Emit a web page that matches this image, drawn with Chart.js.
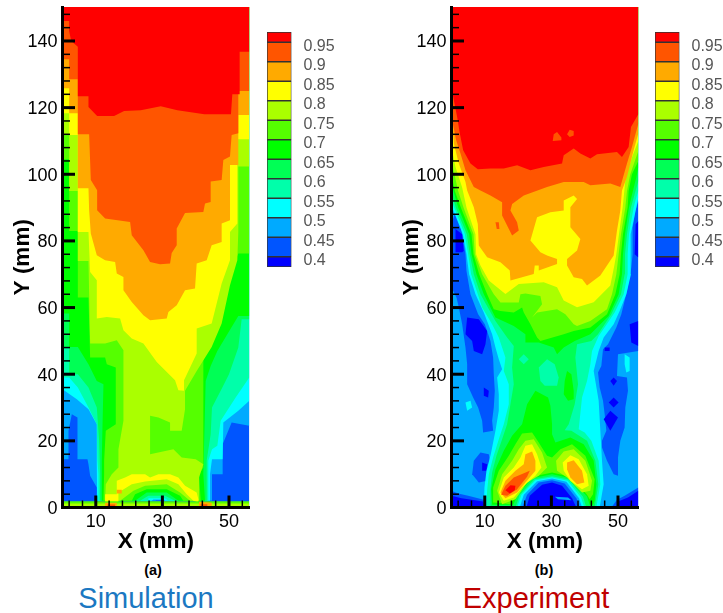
<!DOCTYPE html>
<html>
<head>
<meta charset="utf-8">
<title>Simulation and Experiment contours</title>
<script src="https://cdn.jsdelivr.net/npm/chart.js@4/dist/chart.umd.min.js"></script>
<style>
  body { margin: 0; background: #fff; font-family: "Liberation Sans", Arial, sans-serif; }
  #page { position: relative; width: 723px; height: 613px; overflow: hidden; }
  canvas { position: absolute; top: 0; }
  .sub { position: absolute; top: 561px; width: 60px; text-align: center; font-size: 14.5px; font-weight: bold; line-height: 18px; }
  .name { position: absolute; top: 581px; width: 200px; text-align: center; font-size: 29px; line-height: 34px; }
</style>
</head>
<body>
<div id="page">
  <canvas id="simChart" width="260" height="560" style="left:0"></canvas>
  <canvas id="simBar" width="90" height="300" style="left:260px"></canvas>
  <canvas id="expChart" width="260" height="560" style="left:390px"></canvas>
  <canvas id="expBar" width="75" height="300" style="left:648px"></canvas>
  <div class="sub" style="left:123px">(a)</div>
  <div class="sub" style="left:514px">(b)</div>
  <div class="name" style="left:46px;color:#1b78c2">Simulation</div>
  <div class="name" style="left:436px;color:#c00000">Experiment</div>
</div>
<script>
const xMax = 56.1;
const yMax = 150.2;
const xMinorTicks = [2, 6, 10, 14, 18, 22, 26, 30, 34, 38, 42, 46, 50, 54];
const xLabels = [10, 30, 50];
const yMinorTicks = [0, 4, 8, 12, 16, 20, 24, 28, 32, 36, 40, 44, 48, 52, 56, 60, 64, 68, 72, 76, 80, 84, 88, 92, 96, 100, 104, 108, 112, 116, 120, 124, 128, 132, 136, 140, 144, 148];
const yLabels = [0, 20, 40, 60, 80, 100, 120, 140];

// colour legend, low to high
const legendLabels = ["0.4", "0.45", "0.5", "0.55", "0.6", "0.65", "0.7", "0.75", "0.8", "0.85", "0.9", "0.95"];
const legendValues = [0.4, 0.45, 0.5, 0.55, 0.6, 0.65, 0.7, 0.75, 0.8, 0.85, 0.9, 0.95];
const legendColors = ["#0000ff", "#0055ff", "#00aaff", "#00ffff", "#00ffaa", "#00ff55", "#00ff00", "#55ff00", "#aaff00", "#ffff00", "#ffaa00", "#ff5500", "#ff0000"];
const legendMin = 0.3736;
const legendMax = 0.9764;
const [c40, c45, c50, c55, c60, c65, c70, c75, c80, c85, c90, c95] = legendColors.slice(1);
const c00 = legendColors[0];

const simLevel45 = [[0,14.5],[1.8,14.5],[1.8,23],[2.8,28],[4.5,27],[4.5,14.5],[7.5,14.5],[7.8,13],[8.3,9.5],[10.3,6],[10.3,2],[27.8,2],[28,2.2],[30,2.2],[30.2,2],[44.9,2],[44.9,10],[48.1,10],[48.1,19],[50.8,25.5],[56.1,24.5]];
const simLevel50 = [[0,35.5],[4.3,32.5],[7.8,29.5],[10.3,25],[10.3,13],[10.4,2],[26.8,2],[27.3,2.4],[30.3,2.4],[30.8,2],[44.3,2],[44.3,10],[44.9,14.5],[48.1,14.5],[48.3,25.5],[52.8,29],[56.1,32]];
const simLevel55 = [[0,39],[2,39],[4.6,36],[7.8,30],[10.3,25],[10.5,14],[10.8,10],[10.8,2],[25.8,2],[25.8,2.8],[30.8,2.8],[31.8,2],[43.8,2],[43.8,14],[44.9,17.5],[46.5,18.5],[47.5,26],[52,33],[56.1,39]];
const simLevel60 = [[0,48.2],[2,48.2],[2,40],[4.6,40],[7.8,36],[10.3,30],[11,20],[11.3,10],[11.3,2],[23.3,2],[25.8,3.5],[30.8,3.5],[33.8,2],[43.3,2],[43.3,14],[44.5,22],[44.9,30],[48,36],[50,40],[52.8,48],[53.8,56.5],[56.1,56.5]];
const simLevel65 = [[0,58.2],[2,58.2],[2,48.2],[4.6,48.2],[7.8,43],[10.3,38],[12.3,37],[12,24],[11.8,14],[11.8,2],[21.8,2],[25.3,4.5],[31.3,4.5],[34.8,2],[42.8,2],[42.3,10],[43,38],[44.5,42.5],[46.5,47],[49.5,52],[52.8,57.5],[56.1,57.5]];
const simLevel70 = [[0,104.5],[2,104.5],[2,83],[4.6,83],[4.6,63],[7.8,63],[8.3,45],[12.8,45],[13.3,43],[16,42],[16,25],[13,23],[12.5,14],[12.5,10],[12.3,2],[20.8,2],[21.8,4],[25.3,5.5],[31.3,5.5],[35.3,3.5],[36.3,2],[41.5,2],[41,10],[42.3,12],[42.3,48.2],[45.3,50.7],[48.1,62.2],[50.5,71.2],[52.8,76.2],[56.1,76.2]];
const simLevel75 = [[0,111.8],[2,111.8],[2,95],[4.6,95],[4.6,74],[7.8,74],[8.3,49.2],[12.8,49.2],[16.3,50.2],[18.3,47.2],[18.3,26],[16.8,17.5],[16.8,12],[14.8,10],[13,7],[12.8,2],[17.3,2],[21.3,5],[24.8,6.5],[31.3,7],[35.3,4.5],[38.3,2],[41,2],[41,4.5],[41,9],[42.3,13],[40,14.5],[35.8,15],[33.3,17.5],[26.3,16],[26.3,27.5],[28.8,27],[32.3,25.5],[32.3,23],[35.8,23],[36.8,29.5],[36.8,35],[40.3,41],[44.8,48.2],[47.8,55.2],[50.3,66.7],[52.5,74.2],[52.8,82.7],[52.8,102.3],[56.1,102.3]];
const simLevel80 = [[0,118.3],[2,118.3],[2,111.8],[4.6,111.8],[4.6,82.7],[7.8,82.7],[8.3,70.7],[10.3,68.2],[10.3,56.7],[13.3,57.2],[17.3,56.7],[18.3,53.2],[20.8,50.7],[24.3,49.2],[28.3,43.7],[33.8,38.2],[34.8,35.2],[36.5,35],[36.5,38.2],[40.3,46.2],[40.3,53.7],[44.8,55.2],[47.8,67.2],[50.3,74.2],[50.3,82.7],[52.5,85.2],[52.5,110.5],[56.1,110.5]];
const simLevel85 = [[0,125.8],[2,125.8],[2,118.3],[4.6,118.3],[4.6,95.8],[7.8,95.8],[8,89.2],[8.5,82.2],[10.3,75.7],[12.8,74.2],[15.8,73.7],[16.3,70.2],[18.3,69.2],[18.3,65.2],[20.8,61.7],[24.3,57.7],[26.3,56.2],[31.3,56.7],[31.8,58.7],[34.3,60.7],[36.8,65.2],[39.8,65.7],[40.3,73.2],[43.3,74.2],[44.8,78.7],[47.8,79.7],[47.8,85.2],[50.3,86.2],[50.3,102.8],[52.8,102.8],[52.8,117.8],[56.1,117.8]];
const simLevel90 = [[0,134.5],[2,134.5],[2,128.5],[4.6,128.5],[4.6,112],[8,112],[8.5,98.3],[10.4,95.2],[10.4,89.2],[12.8,86.7],[20.3,85.7],[20.8,81.7],[24.3,77.2],[26.3,73.7],[29.3,73],[32.3,73.2],[32.8,76.4],[34.3,78.7],[34.3,83.7],[36.8,88.4],[42.3,88.7],[42.8,91.2],[44.5,91.7],[44.5,97.8],[47.8,98.3],[48.3,104.3],[50.3,105.3],[50.8,111.8],[52.8,112.3],[52.8,125],[56.1,125]];
const simLevel95 = [[0,146],[2,146],[2,143],[2.6,140],[4.6,138.3],[4.6,123.4],[7.8,123.4],[7.8,120.2],[10.4,117.5],[15.5,117.5],[18.5,119],[23.5,119.2],[29.5,120.4],[34.5,119.2],[42.6,118],[50.6,118],[51,124],[53.2,124],[53.2,136.8],[56.1,136.8]];
const simRing = [[12.8,1.5],[12.8,4],[16.3,4],[16.3,8],[18.8,9],[20.8,10],[24.8,10],[26.3,9],[28.8,10],[32.3,10],[34.8,9],[36.8,6.5],[40.3,4.5],[40.8,2.5],[40.8,1.5],[39.3,2],[37.3,4],[34.8,7],[31.3,8.5],[24.8,7.8],[20.8,7],[16.8,4.5],[16.8,1.5]];
const simSpot = [[16.3,5.3],[17.8,5.3],[17.8,4.2],[16.3,4.2]];
const simStripGreen = [[0,0],[56.1,0],[56.1,1.9],[0,1.9]];
const simStripLime = [[0,0],[56.1,0],[56.1,1.2],[0,1.2]];
const simFootLeft = [[12.8,0],[12.8,1.4],[16.3,1.4],[16.3,0]];
const simFootRight = [[41,0],[41,1.7],[44.8,1.4],[44.8,0]];
const simFootRedLeft = [[13.5,0],[13.5,0.9],[15.8,0.9],[15.8,0]];
const simFootRedRight = [[41.5,0],[41.5,1],[43.5,1],[43.5,0]];

// Experiment: sky blue is the background, darker blue patches sit on it, then the levels
const expStripLeft = [[0,85],[1.2,89],[2.2,87.6],[3.2,82],[4.2,76],[4.5,71],[5.7,64],[8,58],[10,55],[11.7,50],[12.5,45],[12.7,40],[13,35],[12.7,30],[12.2,26],[12.5,23],[9.5,22.5],[9.2,26],[8,30],[6.5,33],[4.7,37],[4.7,43],[4.2,48],[3.2,55],[2.2,60],[1.5,63],[0,66]];
const expBlobLeft = [[6.7,14],[8.7,16.5],[11.2,16],[11.9,12],[10.7,8],[8.2,7.5],[6.2,10]];
const expCornerLeft = [[0,5],[2,4.2],[5,3.5],[9.7,2.3],[10.2,0],[0,0]];
const expStripRight = [[56.1,92],[55.2,89],[54.4,84],[54.4,76],[54,72],[52.7,65],[51,58],[49.5,54],[47,49],[45.5,47.5],[45,42.5],[44,40.5],[44.5,36],[45.5,32],[46,28],[46.5,23],[45.2,20],[45.2,18],[46.7,14],[48.7,10],[50,9.5],[50,15],[50.7,20],[52,24],[52.2,30],[53,35],[52.7,39],[49.7,39.5],[50,46],[56.1,47]];
const expCornerRight = [[49.7,2.3],[52,3.5],[56.1,6],[56.1,0],[48,0]];
const expDome45 = [[21.2,0],[22.7,3.8],[26.2,7.5],[30.2,8.2],[34,7.2],[37.5,2.8],[38.5,0]];
const expDeep1 = [[4.7,57],[8.2,56.5],[10.7,53],[10.2,49],[9.2,46],[6.7,47],[6.2,50],[4.2,52]];
const expDeep2 = [[1.2,83.6],[3.2,82],[3.7,77],[3.2,76.6],[1.2,76.6]];
const expDeep3 = [[9.7,36],[11.2,35],[11,33],[9.7,33.5]];
const expDeep4 = [[9.2,13.5],[10.7,13],[10.5,11],[9.2,11]];
const expDeep5 = [[53.5,55],[56.1,56],[56.1,48.5],[54,49.5]];
const expDeep6 = [[55.3,85],[56.1,86],[56.1,75],[55,76]];
const expDeep7 = [[45.7,26.5],[47.7,29],[50,27],[47.7,23]];
const expDeep8 = [[47.2,31.5],[48.7,33],[50.2,31.5],[48.7,30]];
const expDeep9 = [[47.7,38],[48.7,39],[49.7,38],[48.7,36.5]];
const expDeep10 = [[46,48],[47.5,48],[47.5,47],[46,47]];
const expDeepCornerLeft = [[0,3.5],[3,2.8],[7,2.2],[9.5,1.8],[10,0],[0,0]];
const expDeepCornerRight = [[50,1.8],[53,3],[56.1,5],[56.1,0],[49.5,0]];
const expDome40 = [[22.5,0],[23.5,3.5],[27.2,6.8],[30.2,7.5],[33.2,6.5],[36.2,2.8],[37.5,0]];
const expStreak = [[31,3.2],[35,3],[36,2.2],[32,2.5]];
const expPatchCyan1 = [[4.2,31.5],[5.7,32],[6.2,30],[4.7,29]];
const expPatchCyan2 = [[52,46],[53.5,45],[53.5,41],[52.5,40.5],[52,43]];
const expLevel50 = [[0,90],[0.2,90],[3.4,82],[4.5,76],[5.3,70],[7.2,64],[9.7,58.5],[12.2,52],[13.2,48],[14.2,44.5],[15.2,41.5],[13.7,39],[14.2,34],[14.2,29],[13.2,23],[11.8,16],[10.5,11],[9.9,6],[9.7,0],[20.5,0],[21.7,3.8],[25.7,7.9],[30.2,8.7],[34.5,7.7],[38.3,2.8],[39.2,0],[44.5,0],[45.7,7],[45.2,14],[44.7,23],[44.2,32],[43.2,38],[42.7,41],[44.2,47],[45.7,51],[48.7,55],[50.5,59],[52.5,64],[53.9,70],[53.7,76],[53.9,82],[55.5,90],[56.1,93]];
const expLevel55 = [[0,92],[0.8,90],[4,82],[5,76],[5.9,70],[7.9,64],[9.2,60],[12.2,55],[14.2,51],[16.2,45],[15.7,41],[17.2,37],[17.2,31],[15.7,25],[14.2,20.5],[12.5,15],[11.2,10],[10.7,5],[10.5,0],[19.7,0],[21,3.8],[25.2,8.2],[30.2,9],[34.9,8],[38.9,3],[39.9,0],[43.5,0],[44.7,7],[44.2,14],[42,20],[40,22.5],[38.2,23.5],[39.2,33],[40.7,38],[41.7,43],[42.2,47],[44.2,51.5],[47,55.5],[49,58.5],[51.7,64],[52.9,70],[52.9,76],[53.3,82],[54.7,90],[55.5,93],[56.1,95]];
const expLevel60 = [[0,94],[1.3,90],[4.6,82],[5.5,76],[6.7,70],[8.7,64],[13.2,56],[16.7,51],[18.7,48.5],[18.2,42],[18.7,37],[17.7,31],[16.7,25],[15.2,20.5],[13.5,15.5],[12.2,10.5],[11.7,5.5],[11.7,0],[19.2,0],[20.5,3.8],[24.9,8.5],[30.2,9.4],[35.2,8.4],[39.5,3.2],[40.5,0],[43,0],[44.1,7],[43.2,14],[40.7,20],[36,23],[34,23.2],[35.2,25],[37,31],[38,37],[37.2,45],[37.7,49],[42,50],[44,52],[46,55],[48,58],[50.9,64],[52,70],[52.1,76],[52.7,82],[53.9,90],[55,94],[56.1,98]];
const expPatchTeal1 = [[20.2,44.5],[21.7,46],[23.2,44.5],[21.7,43]];
const expPatchTeal2 = [[26.2,42],[28.7,44.5],[31,43],[32.2,39],[31.7,36.5],[28,36.5],[26.7,38]];
const expLevel65 = [[0,97],[2,90],[5.3,82],[6,76],[7.5,70],[9.7,64],[13.2,57],[18.7,54.5],[22.2,52],[22.2,49.5],[26.2,49.5],[30.7,48],[31.7,46],[33.7,48],[37,50],[41.7,52],[44.7,55],[47.2,57.5],[50.2,64],[51.2,70],[51.5,76],[52.1,82],[53.3,90],[54,93],[55.5,99],[56.1,102]];
const expLobe65 = [[12.2,0.8],[11.9,5.5],[13.2,11.5],[15.7,17],[18.2,21.5],[21.2,25],[22.7,31],[25.2,35],[29,33],[29.7,30.5],[30.2,25],[30.2,22],[31.2,19.5],[35.7,21],[39.7,19],[42.7,14],[43.5,7],[43,2],[42.5,0.8],[41.5,0.8],[40.7,3.3],[35.8,8.8],[30.2,10],[24.1,8.8],[20,3.8],[18.5,0.8]];
const expPatch65 = [[34.7,41],[36,40],[36.7,35],[36.7,32.5],[35,32],[33.7,34],[34,38]];
const expLevel70 = [[0,100],[1,95],[2.8,90],[6,82],[6.6,76],[8.3,70],[10.7,64],[12.7,59.5],[14.7,59],[18.7,58.5],[21.2,60],[21.7,58.5],[23.7,55],[25.7,51],[26.7,50],[33.7,52],[36.7,53],[41.7,54],[46.7,58],[49.2,64],[50.5,70],[50.9,76],[51.5,82],[52.9,90],[53.2,95],[54.2,100],[56.1,104]];
const expLobe70 = [[12.7,1.5],[12.5,6],[14.2,11],[17.2,15.5],[19.2,19],[21.2,22.2],[24.2,22.5],[26.2,19.5],[28.7,15.5],[30.2,15],[32.7,17.5],[36.2,19],[40.2,15.5],[43,8.5],[42.5,4],[41.5,2.5],[40.7,3.8],[35.7,9.2],[30.2,10.5],[24.2,9.2],[19.7,4.2],[17.7,1]];
const expLevel75 = [[0,104],[2,95],[3.6,90],[6.6,82],[7,76],[9.2,70],[12.7,64],[14.7,61.5],[20.2,61.5],[20.7,64],[22.2,64.2],[26.7,63.5],[27.2,61],[24.2,57],[25.7,58.5],[31.7,59.5],[34.2,58],[36.7,55],[37.7,54.5],[41.7,56],[46.7,59.5],[48.2,64],[49.5,70],[50.2,76],[50.9,82],[52.2,90],[52.7,95],[53.7,100],[56.1,107]];
const expBlob75Left = [[13.7,5],[15.2,10],[18.2,14],[20.2,17.5],[22.2,20],[24.7,20.5],[27.2,16.5],[28.7,12],[26.2,9.5],[22.7,7.5],[19.2,2.5],[15.2,1]];
const expBlob75Right = [[31.4,14],[33.7,16.8],[36.7,17.5],[40.2,14],[42.2,8],[41.7,5],[39.2,4.5],[34.7,9],[31.7,11]];
const expLevel80 = [[0,108],[1.2,102.2],[3.2,96],[4.5,90],[7.2,82],[7.4,76],[8.7,72.6],[11.2,68.1],[16.2,64.1],[20.2,67.1],[27.7,67.6],[31.7,66.1],[33.7,62.1],[37.7,60.1],[42.7,61.6],[47.7,66.6],[48.9,72.6],[49.5,76],[50.3,82],[51.4,90],[51.9,95],[52.3,99],[54.2,105],[56.1,110]];
const expBlob80Left = [[14.2,4.5],[15.7,9],[18.7,12],[20.7,15],[22.2,18.5],[24.2,19],[25.7,16],[27,12],[25.2,9.5],[21.7,6.5],[18.7,3],[15.7,2]];
const expBlob80Right = [[33.4,13.5],[35.7,15.7],[38.2,14.5],[40.7,10],[41.2,6.5],[39.2,5.5],[35.7,8],[33.7,11]];
const expLevel85 = [[0,116],[0.3,114.7],[0.7,109.2],[2.2,103.2],[4.2,97.7],[4.7,95.1],[6.7,90.1],[7.9,85.1],[8.2,78.6],[10.7,75.1],[14.7,73.6],[17.5,71.1],[17.7,68.1],[24.7,70.1],[25,72.6],[26.2,72.6],[26.2,71.1],[31.7,73.1],[31.7,74.6],[28.7,75.6],[26.7,76.6],[23.7,80.1],[25.7,87.1],[29.7,88.6],[33.7,89.1],[33.7,92.1],[36.7,93.6],[37.7,92.6],[35.7,90.1],[35.7,84.1],[38.7,80.6],[37.7,77.1],[34.7,74.6],[34.7,72.6],[36.7,69.1],[39.2,68.6],[40.7,66.6],[44.7,69.6],[48.7,75.6],[49.7,83.1],[50.7,89.1],[51.2,95.1],[52.7,99.2],[54.7,107.2],[56.1,112.2]];
const expBlob85Left = [[14.7,4.5],[16.2,8],[19.2,11],[21.7,13],[22.2,16],[24.2,16.8],[25.2,14],[25.2,11],[22.2,7.5],[19.7,4.5],[16.2,2.8]];
const expBlob85Right = [[34.7,13.5],[36.7,14.2],[39.2,11],[39.9,7.5],[37.7,7],[35.7,9],[34.7,11.5]];
const expLevel90 = [[0,117],[0.3,115.7],[1.4,110.2],[2.7,106.2],[4.2,101.2],[6.7,96.2],[8.7,95.1],[11.7,93.6],[15.2,91.6],[15.2,87.6],[18.2,81.6],[20.2,83.1],[19.7,85.6],[17.7,89.1],[18.2,91.1],[21.7,93.6],[28.7,96.2],[33.7,97.7],[39.7,97.7],[41.7,96.7],[47.7,97.2],[50.7,96.2],[52.7,103.2],[54.2,108.2],[56.1,115.2]];
const expSpot90 = [[13.2,85.6],[14.2,85.6],[14.4,83.6],[13.6,83.6]];
const expBlob90 = [[14.9,3.8],[16.2,6.5],[18.7,9],[23.5,11],[22.7,9.2],[19.7,5.5],[16.7,3.5]];
const expLevel95 = [[0,126.2],[0.7,122.2],[1.7,117.2],[2.5,112.2],[3.5,107.2],[5.7,103.2],[7.9,101.5],[11.7,101.7],[15.7,101.7],[19.7,102.7],[23.7,101.2],[27.7,102.2],[33.2,103.2],[33.7,105.7],[36.7,107.7],[38.7,106.2],[41.7,104.7],[43.7,106],[49.7,106.7],[51.2,105.2],[53.2,108.2],[53.9,114.2],[56.1,118]];
const expBlob95 = [[16.2,5.2],[17.7,6.7],[19.2,6.5],[19,5.2],[17.5,4.2]];
const expIsle1 = [[30.4,110],[30.7,112],[31.7,112.7],[33,111],[33,110.2]];
const expIsle2 = [[34.7,112],[35.5,113.4],[36.7,113],[36.7,111.6],[35.5,111.2]];

// area above a contour runs on to the top corners of the plot
const upTo = pts => pts.concat([[xMax, yMax], [0, yMax]]);
const plotRect = [[0, 0], [xMax, 0], [xMax, yMax], [0, yMax]];

const simLayers = [
  [plotRect, c40], [upTo(simLevel45), c45], [upTo(simLevel50), c50], [upTo(simLevel55), c55],
  [upTo(simLevel60), c60], [upTo(simLevel65), c65], [upTo(simLevel70), c70], [upTo(simLevel75), c75],
  [upTo(simLevel80), c80], [simRing, c80], [simSpot, c85], [upTo(simLevel85), c85],
  [upTo(simLevel90), c90], [upTo(simLevel95), c95], [simStripGreen, c70], [simStripLime, c75],
  [simFootLeft, c85], [simFootRight, c85], [simFootRedLeft, c90], [simFootRedRight, c90]
];

const expLayers = [
  [plotRect, c45],
  [expStripLeft, c40], [expBlobLeft, c40], [expCornerLeft, c40], [expStripRight, c40], [expCornerRight, c40], [expDome45, c40],
  [expDeep1, c00], [expDeep2, c00], [expDeep3, c00], [expDeep4, c00], [expDeep5, c00], [expDeep6, c00], [expDeep7, c00],
  [expDeep8, c00], [expDeep9, c00], [expDeep10, c00], [expDeepCornerLeft, c00], [expDeepCornerRight, c00], [expDome40, c00],
  [expStreak, c45], [expPatchCyan1, c50], [expPatchCyan2, c50],
  [upTo(expLevel50), c50], [upTo(expLevel55), c55], [upTo(expLevel60), c60], [expPatchTeal1, c55], [expPatchTeal2, c55],
  [upTo(expLevel65), c65], [expLobe65, c65], [expPatch65, c65],
  [upTo(expLevel70), c70], [expLobe70, c70],
  [upTo(expLevel75), c75], [expBlob75Left, c75], [expBlob75Right, c75],
  [upTo(expLevel80), c80], [expBlob80Left, c80], [expBlob80Right, c80],
  [upTo(expLevel85), c85], [expBlob85Left, c85], [expBlob85Right, c85],
  [upTo(expLevel90), c90], [expSpot90, c90], [expBlob90, c90],
  [upTo(expLevel95), c95], [expBlob95, c95], [expIsle1, c90], [expIsle2, c90]
];

// short ticks point into the plot, chart.js only draws them outwards
const innerTicks = {
  id: "innerTicks",
  afterDatasetsDraw(chart) {
    const { ctx, chartArea, scales } = chart;
    ctx.save();
    ctx.strokeStyle = "#000";
    xMinorTicks.forEach(v => {
      const major = xLabels.includes(v);
      const px = scales.x.getPixelForValue(v);
      ctx.lineWidth = major ? 3 : 1.5;
      ctx.beginPath();
      ctx.moveTo(px, chartArea.bottom);
      ctx.lineTo(px, chartArea.bottom - (major ? 12 : 7));
      ctx.stroke();
    });
    yMinorTicks.forEach(v => {
      const major = yLabels.includes(v);
      const py = scales.y.getPixelForValue(v);
      ctx.lineWidth = major ? 3 : 1.5;
      ctx.beginPath();
      ctx.moveTo(chartArea.left, py);
      ctx.lineTo(chartArea.left + (major ? 12.5 : 7.5), py);
      ctx.stroke();
    });
    ctx.restore();
  }
};

function renderContour(canvasId, layers, yAxisWidth) {
  new Chart(document.getElementById(canvasId), {
    type: "scatter",
    // the first dataset is drawn last, so the stack is turned round
    data: {
      datasets: layers.slice().reverse().map(([points, color]) => ({
        data: points.map(([x, y]) => ({ x, y })),
        showLine: true,
        fill: "shape",
        backgroundColor: color,
        borderColor: color,
        borderWidth: 0,
        pointRadius: 0
      }))
    },
    options: {
      responsive: false,
      animation: false,
      layout: { padding: { top: 7, right: 260 - yAxisWidth - 186.8, left: 0, bottom: 0 } },
      plugins: { legend: { display: false }, tooltip: { enabled: false } },
      scales: {
        x: {
          type: "linear",
          min: 0,
          max: xMax,
          afterBuildTicks: s => { s.ticks = xMinorTicks.map(value => ({ value })); },
          afterFit: s => { s.height = 52.5; s.paddingLeft = 0; s.paddingRight = 0; },
          grid: { display: false, drawTicks: false, tickLength: 0 },
          border: { color: "#000", width: 3, z: 1 },
          ticks: {
            autoSkip: false,
            maxRotation: 0,
            padding: 4,
            color: "#000",
            font: { family: "Liberation Sans", size: 18 },
            callback: v => (xLabels.includes(v) ? String(v) : "")
          },
          title: {
            display: true,
            text: "X (mm)",
            color: "#000",
            padding: { top: 0, bottom: 5 },
            font: { family: "Liberation Sans", size: 22.5, weight: "bold" }
          }
        },
        y: {
          type: "linear",
          min: 0,
          max: yMax,
          afterBuildTicks: s => { s.ticks = yMinorTicks.map(value => ({ value })); },
          afterFit: s => { s.width = yAxisWidth; s.paddingTop = 0; s.paddingBottom = 0; },
          grid: { display: false, drawTicks: false, tickLength: 0 },
          border: { color: "#000", width: 3, z: 1 },
          ticks: {
            autoSkip: false,
            padding: 5,
            labelOffset: 1.5,
            color: "#000",
            font: { family: "Liberation Sans", size: 18 },
            callback: v => (yLabels.includes(v) ? String(v) : "")
          },
          title: {
            display: true,
            text: "Y (mm)",
            color: "#000",
            padding: { top: 9 - (62.5 - yAxisWidth), bottom: 0 },
            font: { family: "Liberation Sans", size: 22.5, weight: "bold" }
          }
        }
      }
    },
    plugins: [innerTicks]
  });
}

function renderColorBar(canvasId, canvasWidth) {
  const edges = [legendMin].concat(legendValues, [legendMax]);
  new Chart(document.getElementById(canvasId), {
    type: "bar",
    data: {
      labels: [""],
      datasets: legendColors.map((color, i) => ({
        data: [[edges[i], edges[i + 1]]],
        backgroundColor: color,
        borderColor: "#333",
        borderWidth: 1,
        borderSkipped: false,
        barPercentage: 1,
        categoryPercentage: 1,
        grouped: false
      }))
    },
    options: {
      responsive: false,
      animation: false,
      layout: { padding: { top: 32, bottom: 33, left: 7, right: 0 } },
      plugins: { legend: { display: false }, tooltip: { enabled: false } },
      scales: {
        x: { display: false },
        y: {
          position: "right",
          min: legendMin,
          max: legendMax,
          afterBuildTicks: s => { s.ticks = legendValues.map(value => ({ value })); },
          afterFit: s => { s.width = canvasWidth - 7 - 24.5; },
          grid: { display: false, drawTicks: false },
          border: { display: false },
          ticks: {
            autoSkip: false,
            padding: 12,
            labelOffset: 4,
            color: "#555",
            font: { family: "Liberation Sans", size: 16 },
            callback: v => legendLabels[legendValues.indexOf(v)]
          }
        }
      }
    }
  });
}

renderContour("simChart", simLayers, 62.5);
renderContour("expChart", expLayers, 61.5);
renderColorBar("simBar", 90);
renderColorBar("expBar", 75);
</script>
</body>
</html>
